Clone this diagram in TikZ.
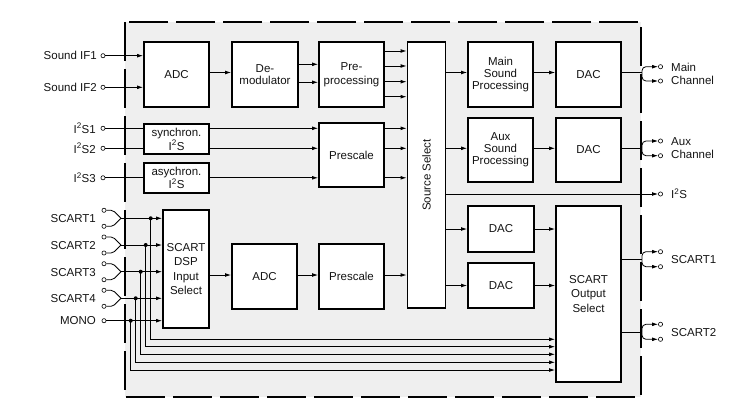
\documentclass[tikz,border=0pt]{standalone}
\usepackage{fontspec}
\setmainfont{Liberation Sans}
\usetikzlibrary{arrows.meta,calc}
\definecolor{panel}{HTML}{EFEFEF}
\definecolor{ink}{HTML}{141414}
\begin{document}
\begin{tikzpicture}[x=1pt,y=-1pt,
  blk/.style={draw=black,line width=1.8pt,fill=white,inner sep=1pt,align=center,
    font=\fontsize{11.5}{12}\selectfont,text=ink},
  arr/.style={-{Latex[length=6pt,width=3.8pt]},line width=0.8pt},
  ln/.style={line width=0.8pt},
  fork/.style={-{Latex[length=6pt,width=3.8pt]},line width=0.8pt,rounded corners=4pt},
  term/.style={circle,draw,line width=0.6pt,fill=white,inner sep=0pt,minimum size=4.2pt},
  lbl/.style={font=\fontsize{11.5}{13}\selectfont,text=ink,inner sep=0pt},
  jdot/.style={circle,fill=black,inner sep=0pt,minimum size=4pt},
  border/.style={line width=2.8pt,dash pattern=on 39pt off 8pt}
]
\useasboundingbox (0,0) rectangle (735,409);

% panel
\fill[panel] (125,22) rectangle (641,397);
\draw[border] (125,22) rectangle (641,397);

% blocks
\node[blk,minimum width=65pt,minimum height=65pt] (adc1) at (176.5,74.5) {ADC};
\node[blk,minimum width=66pt,minimum height=65pt] (demod) at (265,74.5) {De-\\modulator};
\node[blk,minimum width=65pt,minimum height=65pt,font=\fontsize{11.5}{14.5}\selectfont] (pre) at (351.5,74.5) {Pre-\\processing};
\node[blk,minimum width=38pt,minimum height=266pt] (ss) at (426.5,175) {};
\node[lbl,rotate=90] (sslbl) at (ss.center) {Source Select};
\node[blk,minimum width=65pt,minimum height=65pt] (main) at (500.5,74.5) {Main\\Sound\\Processing};
\node[blk,minimum width=65pt,minimum height=65pt] (dac1) at (588.5,74.5) {DAC};
\node[blk,minimum width=65pt,minimum height=30pt,font=\fontsize{11.5}{14}\selectfont] (sync) at (176.5,139) {synchron.\\I\textsuperscript{2}S};
\node[blk,minimum width=65pt,minimum height=30pt,font=\fontsize{11.5}{12.5}\selectfont] (async) at (176.5,178) {asychron.\\I\textsuperscript{2}S};
\node[blk,minimum width=65pt,minimum height=64pt] (pre1) at (351.5,155) {Prescale};
\node[blk,minimum width=65pt,minimum height=64pt] (aux) at (500.5,150) {Aux\\Sound\\Processing};
\node[blk,minimum width=65pt,minimum height=64pt] (dac2) at (588.5,150) {DAC};
\node[blk,minimum width=66pt,minimum height=46pt] (dac3) at (501,229) {DAC};
\node[blk,minimum width=66pt,minimum height=45pt] (dac4) at (501,285.5) {DAC};
\node[blk,minimum width=65pt,minimum height=176pt,font=\fontsize{11.5}{14.3}\selectfont] (sos) at (588.5,294) {SCART\\Output\\Select};
\node[blk,minimum width=46pt,minimum height=118pt,font=\fontsize{11.5}{14.3}\selectfont] (dsp) at (186,269) {SCART\\DSP\\Input\\Select};
\node[blk,minimum width=65pt,minimum height=65pt] (adc2) at (264.5,276.5) {ADC};
\node[blk,minimum width=65pt,minimum height=65pt] (pre2) at (351.5,276.5) {Prescale};

% level coordinates
\coordinate (y51) at (0,51);
\coordinate (y66) at (0,66);
\coordinate (y64) at (0,64.3);
\coordinate (y82) at (0,82.3);
\coordinate (y81) at (0,81.7);
\coordinate (y96) at (0,96.7);
\coordinate (y72) at (0,72.5);
\coordinate (y148) at (0,148.3);
\coordinate (y194) at (0,194);
\coordinate (y229) at (0,229);
\coordinate (y285) at (0,285.5);
\coordinate (y275) at (0,275);
\coordinate (y259) at (0,259.3);
\coordinate (y332) at (0,332.3);

% ---- left inputs: Sound IF
\node[term] (tif1) at (103,55.7) {};
\node[term] (tif2) at (103,87.3) {};
\node[lbl,anchor=east] (lif1) at (97,55.7) {Sound IF1};
\node[lbl,anchor=east] (lif2) at (97,87.3) {Sound IF2};
\draw[arr] (tif1) -- (adc1.west |- tif1);
\draw[arr] (tif2) -- (adc1.west |- tif2);

% ---- I2S inputs
\node[term] (ti1) at (103,128.3) {};
\node[term] (ti2) at (103,148.3) {};
\node[term] (ti3) at (103,177.8) {};
\node[lbl,anchor=east] (li1) at (96,128.3) {I\textsuperscript{2}S1};
\node[lbl,anchor=east] (li2) at (96,148.3) {I\textsuperscript{2}S2};
\node[lbl,anchor=east] (li3) at (96,177.8) {I\textsuperscript{2}S3};
\draw[ln] (ti1) -- (sync.west |- ti1);
\draw[ln] (ti2) -- (sync.west |- ti2);
\draw[ln] (ti3) -- (async.west |- ti3);
\draw[arr] (sync.east |- ti1) -- (pre1.west |- ti1);
\draw[arr] (sync.east |- ti2) -- (pre1.west |- ti2);
\draw[arr] (async.east |- ti3) -- (pre1.west |- ti3);
\draw[arr] (pre1.east |- ti1) -- (ss.west |- ti1);
\draw[arr] (pre1.east |- ti2) -- (ss.west |- ti2);
\draw[arr] (pre1.east |- ti3) -- (ss.west |- ti3);

% ---- top chain
\draw[arr] (adc1.east |- y72) -- (demod.west |- y72);
\draw[arr] (demod.east |- y64) -- (pre.west |- y64);
\draw[arr] (demod.east |- y82) -- (pre.west |- y82);
\draw[arr] (pre.east |- y51) -- (ss.west |- y51);
\draw[arr] (pre.east |- y66) -- (ss.west |- y66);
\draw[arr] (pre.east |- y81) -- (ss.west |- y81);
\draw[arr] (pre.east |- y96) -- (ss.west |- y96);
\draw[arr] (ss.east |- y72) -- (main.west |- y72);
\draw[arr] (main.east |- y72) -- (dac1.west |- y72);
\draw[arr] (ss.east |- y148) -- (aux.west |- y148);
\draw[arr] (aux.east |- y148) -- (dac2.west |- y148);

% ---- right outputs
\coordinate (jm) at (642,72.5);
\node[term] (tma) at (660.5,66.7) {};
\node[term] (tmb) at (660.5,81) {};
\draw[ln] (dac1.east |- y72) -- (jm);
\draw[fork] (jm) |- (tma);
\draw[fork] (jm) |- (tmb);
\node[lbl,anchor=west,align=left] (lmain) at (671,74) {Main\\Channel};

\coordinate (ja) at (642,148.3);
\node[term] (taa) at (660.5,141) {};
\node[term] (tab) at (660.5,155.7) {};
\draw[ln] (dac2.east |- y148) -- (ja);
\draw[fork] (ja) |- (taa);
\draw[fork] (ja) |- (tab);
\node[lbl,anchor=west,align=left] (laux) at (671,148.5) {Aux\\Channel};

\node[term] (ti2s) at (660.5,194) {};
\draw[arr] (ss.east |- y194) -- (ti2s);
\node[lbl,anchor=west] (li2s) at (671,194) {I\textsuperscript{2}S};

% ---- DACs to SCART output
\draw[arr] (ss.east |- y229) -- (dac3.west |- y229);
\draw[arr] (ss.east |- y285) -- (dac4.west |- y285);
\draw[arr] (dac3.east |- y229) -- (sos.west |- y229);
\draw[arr] (dac4.east |- y285) -- (sos.west |- y285);

\coordinate (js1) at (642,259.3);
\node[term] (tsa) at (660.5,251.7) {};
\node[term] (tsb) at (660.5,266.7) {};
\draw[ln] (sos.east |- y259) -- (js1);
\draw[fork] (js1) |- (tsa);
\draw[fork] (js1) |- (tsb);
\node[lbl,anchor=west] (ls1) at (671,259.3) {SCART1};

\coordinate (js2) at (642,332.3);
\node[term] (tsc) at (660.5,324.3) {};
\node[term] (tsd) at (660.5,339.3) {};
\draw[ln] (sos.east |- y332) -- (js2);
\draw[fork] (js2) |- (tsc);
\draw[fork] (js2) |- (tsd);
\node[lbl,anchor=west] (ls2) at (671,332.3) {SCART2};

% ---- lower chain
\draw[arr] (dsp.east |- y275) -- (adc2.west |- y275);
\draw[arr] (adc2.east |- y275) -- (pre2.west |- y275);
\draw[arr] (pre2.east |- y275) -- (ss.west |- y275);

% ---- SCART inputs
\foreach \i/\m/\dx/\by in {1/218.3/150.7/339.3, 2/245/145.7/346.7, 3/271.7/140.7/354.3, 4/298.3/135.7/362.3}{
  \node[term] (sa\i) at (104,\m-8) {};
  \node[term] (sb\i) at (104,\m+8) {};
  \coordinate (sj\i) at (121,\m);
  \coordinate (sbus\i) at (0,\by);
  \draw[ln,rounded corners=2pt] (sa\i) -- ++(9,0) -- (sj\i);
  \draw[ln,rounded corners=2pt] (sb\i) -- ++(9,0) -- (sj\i);
  \draw[arr] (sj\i) -- (dsp.west |- sj\i);
  \node[jdot] (sd\i) at (\dx,\m) {};
  \draw[arr] (sd\i.center) |- (sos.west |- sbus\i);
  \node[lbl,anchor=east] (ls\i) at (96,\m+0.7) {SCART\i};
}
\node[term] (tmono) at (104,320.7) {};
\node[lbl,anchor=east] (lmono) at (96,321) {MONO};
\coordinate (sbus5) at (0,370);
\draw[arr] (tmono) -- (dsp.west |- tmono);
\node[jdot] (sd5) at (130.7,320.7) {};
\draw[arr] (sd5.center) |- (sos.west |- sbus5);

\end{tikzpicture}
\end{document}
